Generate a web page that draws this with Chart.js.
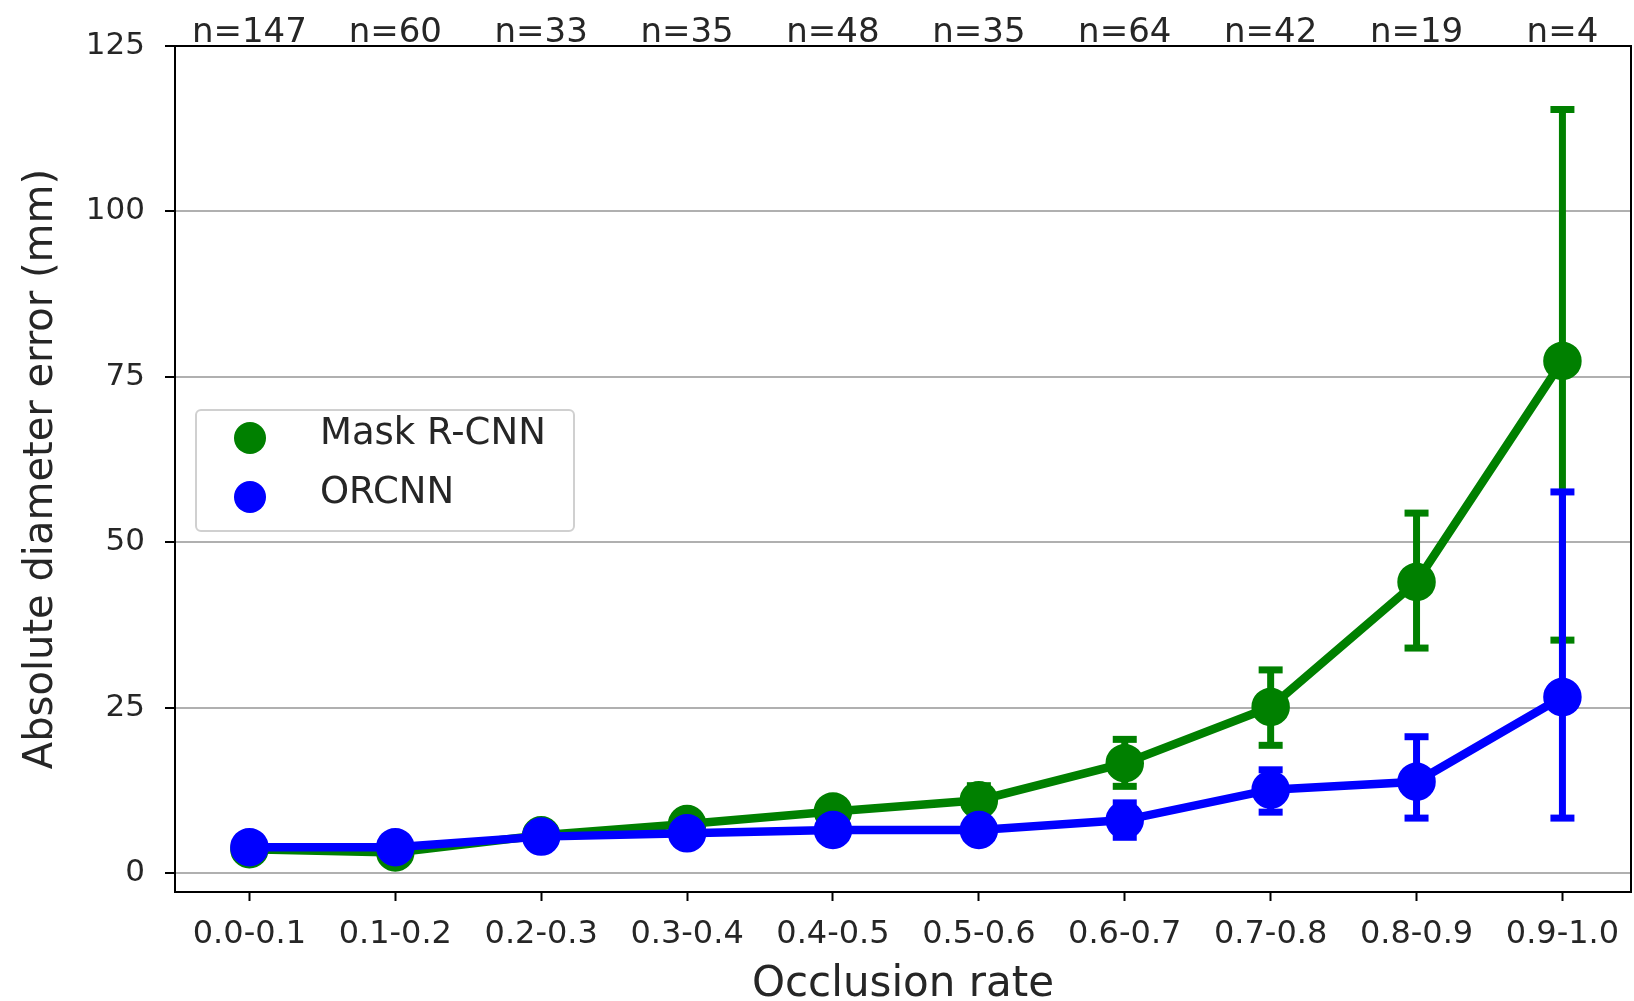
<!DOCTYPE html>
<html>
<head>
<meta charset="utf-8">
<script src="https://cdn.jsdelivr.net/npm/chart.js@4.4.1/dist/chart.umd.min.js"></script>
<style>
  html, body { margin: 0; padding: 0; background: #fff; overflow: hidden; }
  #wrap { width: 1634px; height: 1001px; position: relative; }
  #errChart { display: block; }
</style>
</head>
<body>
<div id="wrap"><canvas id="errChart"></canvas></div>
<script>
const categories = ['0.0-0.1', '0.1-0.2', '0.2-0.3', '0.3-0.4', '0.4-0.5', '0.5-0.6', '0.6-0.7', '0.7-0.8', '0.8-0.9', '0.9-1.0'];
const sampleCounts = ['n=147', 'n=60', 'n=33', 'n=35', 'n=48', 'n=35', 'n=64', 'n=42', 'n=19', 'n=4'];

const maskMean = [3.6, 3.1, 5.7, 7.4, 9.3, 11.0, 16.6, 25.1, 44.0, 77.4];
const maskLow  = [3.1, 2.6, 5.0, 6.5, 8.0, 8.8, 13.1, 19.3, 34.0, 35.2];
const maskHigh = [4.1, 3.6, 6.4, 8.3, 10.6, 13.2, 20.2, 30.7, 54.4, 115.4];

const orcnnMean = [3.9, 3.9, 5.5, 6.0, 6.5, 6.5, 8.0, 12.6, 13.8, 26.6];
const orcnnLow  = [3.3, 3.3, 4.4, 4.8, 5.3, 5.0, 5.4, 9.2, 8.3, 8.3];
const orcnnHigh = [4.5, 4.5, 6.6, 7.2, 7.7, 8.0, 10.6, 15.6, 20.6, 57.6];

const yTicks = [0, 25, 50, 75, 100, 125];

const textColor = '#262626';
const fontFamily = "'DejaVu Sans', 'Noto Sans', sans-serif";

const toPoints = arr => arr.map((v, i) => ({ x: i, y: v }));
const catTicks = scale => { scale.ticks = categories.map((c, i) => ({ value: i })); };
// keep label overhang from shrinking the plot area
const noOverhang = h => scale => { scale.height = h; scale.paddingLeft = 0; scale.paddingRight = 0; };

// error bars drawn just before each dataset's own line
const errorBars = {
    id: 'errorBars',
    beforeDatasetDraw(chart, args) {
        const ds = chart.data.datasets[args.index];
        if (!ds.errLow) return;
        const { ctx, scales: { x, y } } = chart;
        ctx.save();
        ctx.strokeStyle = ds.borderColor;
        ctx.lineCap = 'butt';
        ctx.lineWidth = 7;
        ds.errLow.forEach((lo, i) => {
            const px = x.getPixelForValue(i);
            const yLo = y.getPixelForValue(lo);
            const yHi = y.getPixelForValue(ds.errHigh[i]);
            ctx.beginPath();
            ctx.moveTo(px, yLo);
            ctx.lineTo(px, yHi);
            ctx.stroke();
            [yLo, yHi].forEach(cy => {
                ctx.beginPath();
                ctx.moveTo(px - 12, cy);
                ctx.lineTo(px + 12, cy);
                ctx.stroke();
            });
        });
        ctx.restore();
    }
};

// frame + matplotlib style legend box
const frameAndLegend = {
    id: 'frameAndLegend',
    afterDraw(chart) {
        const { ctx, chartArea: a } = chart;
        ctx.save();
        ctx.strokeStyle = '#000';
        ctx.lineWidth = 2;
        ctx.strokeRect(a.left, a.top, a.right - a.left, a.bottom - a.top);

        const bx = a.left + 21, by = 410, bw = 378, bh = 121;
        ctx.fillStyle = 'rgba(255,255,255,0.85)';
        ctx.strokeStyle = '#d0d0d0';
        ctx.lineWidth = 2;
        ctx.beginPath();
        ctx.roundRect(bx, by, bw, bh, 5);
        ctx.fill();
        ctx.stroke();

        ctx.font = '37px ' + fontFamily;
        ctx.textBaseline = 'middle';
        ctx.textAlign = 'left';
        chart.data.datasets.forEach((ds, k) => {
            const cy = by + 28 + k * 59;
            ctx.fillStyle = ds.borderColor;
            ctx.beginPath();
            ctx.arc(bx + 54, cy, 16, 0, Math.PI * 2);
            ctx.fill();
            ctx.fillStyle = textColor;
            ctx.fillText(ds.label, bx + 124, cy - 4);
        });
        ctx.restore();
    }
};

new Chart(document.getElementById('errChart'), {
    type: 'line',
    data: {
        datasets: [
            {
                label: 'Mask R-CNN',
                data: toPoints(maskMean),
                errLow: maskLow,
                errHigh: maskHigh,
                borderColor: '#008000',
                backgroundColor: '#008000',
                borderWidth: 8.5,
                pointRadius: 15,
                pointHoverRadius: 15,
                order: 1
            },
            {
                label: 'ORCNN',
                data: toPoints(orcnnMean),
                errLow: orcnnLow,
                errHigh: orcnnHigh,
                borderColor: '#0000ff',
                backgroundColor: '#0000ff',
                borderWidth: 8.5,
                pointRadius: 15,
                pointHoverRadius: 15,
                order: 0
            }
        ]
    },
    options: {
        responsive: true,
        maintainAspectRatio: false,
        animation: false,
        layout: { autoPadding: false, padding: { left: 0, right: 3, top: 0, bottom: 0 } },
        plugins: {
            legend: { display: false },
            tooltip: { enabled: false }
        },
        scales: {
            x: {
                type: 'linear',
                position: 'bottom',
                min: -0.51,
                max: 9.47,
                afterBuildTicks: catTicks,
                afterFit: noOverhang(109),
                border: { display: false },
                grid: { drawOnChartArea: false, tickColor: '#000', tickLength: 9, tickWidth: 2 },
                ticks: {
                    color: textColor,
                    padding: 14,
                    maxRotation: 0,
                    autoSkip: false,
                    font: { family: fontFamily, size: 32 },
                    callback: v => categories[v]
                },
                title: {
                    display: true,
                    text: 'Occlusion rate',
                    color: textColor,
                    padding: 0,
                    font: { family: fontFamily, size: 42, lineHeight: 0.76 }
                }
            },
            x2: {
                type: 'linear',
                position: 'top',
                min: -0.51,
                max: 9.47,
                afterBuildTicks: catTicks,
                afterFit: noOverhang(46),
                border: { display: false },
                grid: { display: false },
                ticks: {
                    color: textColor,
                    padding: -12,
                    maxRotation: 0,
                    autoSkip: false,
                    font: { family: fontFamily, size: 34, lineHeight: 1 },
                    callback: v => sampleCounts[v]
                }
            },
            y: {
                type: 'linear',
                min: -2.87,
                max: 125,
                afterBuildTicks: scale => { scale.ticks = yTicks.map(v => ({ value: v })); },
                afterFit: scale => { scale.width = 175; },
                border: { display: false },
                grid: { color: '#b0b0b0', lineWidth: 2, tickColor: '#000', tickLength: 10, tickWidth: 2 },
                ticks: {
                    color: textColor,
                    padding: 20,
                    font: { family: fontFamily, size: 31 }
                },
                title: {
                    display: true,
                    text: 'Absolute diameter error (mm)',
                    color: textColor,
                    padding: { top: 18, bottom: 0 },
                    font: { family: fontFamily, size: 40 }
                }
            }
        }
    },
    plugins: [errorBars, frameAndLegend]
});
</script>
</body>
</html>
